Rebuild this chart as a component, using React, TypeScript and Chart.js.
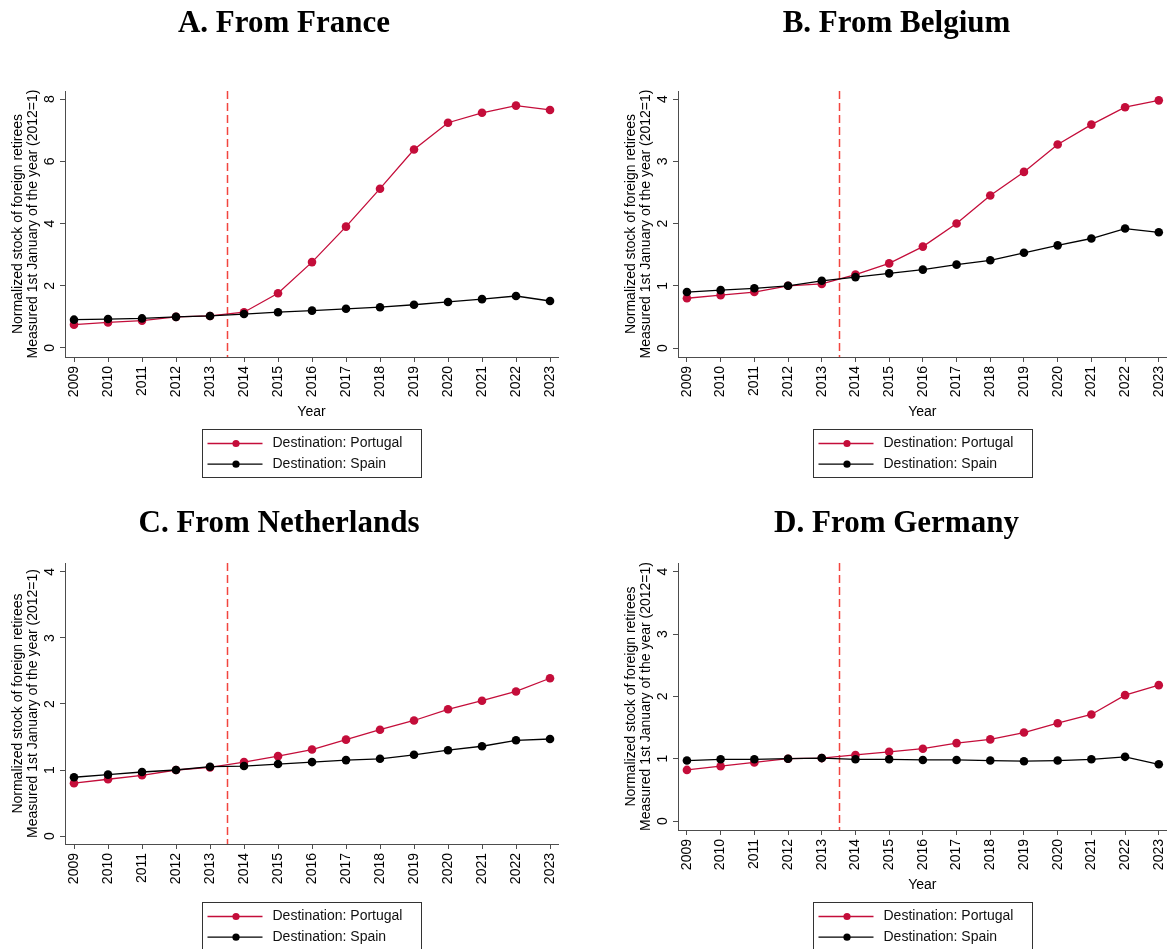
import React, { useEffect, useRef } from 'react';
import { Chart, registerables } from 'chart.js';

Chart.register(...registerables);
Chart.defaults.font.family = '"Liberation Sans", Arial, sans-serif';
Chart.defaults.color = '#000';

// ---------- data ----------
const years = [2009, 2010, 2011, 2012, 2013, 2014, 2015, 2016, 2017, 2018, 2019, 2020, 2021, 2022, 2023];
const seriesLabels = ['Destination: Portugal', 'Destination: Spain'];
const panelTitles = ['A. From France', 'B. From Belgium', 'C. From Netherlands', 'D. From Germany'];
const yAxisTitle = ['Normalized stock of foreign retirees', 'Measured 1st January of the year (2012=1)'];
const xAxisTitle = 'Year';
const eventYear = 2013.5;

const francePortugal = [0.75, 0.82, 0.88, 1.0, 1.03, 1.15, 1.76, 2.76, 3.9, 5.12, 6.38, 7.24, 7.56, 7.79, 7.65];
const franceSpain = [0.91, 0.93, 0.95, 1.0, 1.03, 1.09, 1.15, 1.2, 1.26, 1.31, 1.39, 1.48, 1.57, 1.67, 1.51];
const belgiumPortugal = [0.8, 0.85, 0.9, 1.0, 1.03, 1.18, 1.36, 1.63, 2.0, 2.45, 2.83, 3.27, 3.59, 3.87, 3.98];
const belgiumSpain = [0.9, 0.93, 0.96, 1.0, 1.08, 1.14, 1.2, 1.26, 1.34, 1.41, 1.53, 1.65, 1.76, 1.92, 1.86];
const netherlandsPortugal = [0.8, 0.86, 0.92, 1.0, 1.04, 1.12, 1.21, 1.31, 1.46, 1.61, 1.75, 1.92, 2.05, 2.19, 2.39];
const netherlandsSpain = [0.89, 0.93, 0.97, 1.0, 1.05, 1.06, 1.09, 1.12, 1.15, 1.17, 1.23, 1.3, 1.36, 1.45, 1.47];
const germanyPortugal = [0.82, 0.88, 0.94, 1.0, 1.01, 1.06, 1.11, 1.16, 1.25, 1.31, 1.42, 1.57, 1.71, 2.02, 2.18];
const germanySpain = [0.97, 0.99, 0.99, 1.0, 1.01, 0.99, 0.99, 0.98, 0.98, 0.97, 0.96, 0.97, 0.99, 1.03, 0.91];

const yTicksFrance = [0, 2, 4, 6, 8];
const yTicksOther = [0, 1, 2, 3, 4];

// ---------- styles ----------
const PORTUGAL_COLOR = '#c40d3a';
const SPAIN_COLOR = '#000000';
const AXIS_COLOR = '#4d4d4d';
const EVENT_COLOR = '#f2453f';

const legendPlugin = {
  id: 'boxLegend',
  afterDraw(chart: any, _args: any, opts: any) {
    const { ctx, chartArea } = chart;
    const w = 219;
    const h = 48;
    const cx = (chartArea.left + chartArea.right) / 2;
    const x = Math.round(cx - w / 2) + 0.5;
    const y = Math.round(chartArea.bottom + opts.gap) + 0.5;
    ctx.save();
    ctx.fillStyle = '#fff';
    ctx.fillRect(x, y, w, h);
    ctx.strokeStyle = '#333';
    ctx.lineWidth = 1;
    ctx.strokeRect(x, y, w, h);
    chart.data.datasets.forEach((ds: any, i: number) => {
      const ry = y + 14 + i * 20.7;
      ctx.strokeStyle = ds.borderColor;
      ctx.lineWidth = 1.3;
      ctx.beginPath();
      ctx.moveTo(x + 5, ry);
      ctx.lineTo(x + 60, ry);
      ctx.stroke();
      ctx.fillStyle = ds.borderColor;
      ctx.beginPath();
      ctx.arc(x + 33.5, ry, 3.6, 0, Math.PI * 2);
      ctx.fill();
      ctx.fillStyle = '#111';
      ctx.font = '14px "Liberation Sans", Arial, sans-serif';
      ctx.textBaseline = 'middle';
      ctx.textAlign = 'left';
      ctx.fillText(ds.label, x + 70, ry);
    });
    ctx.restore();
  },
};

const eventLinePlugin = {
  id: 'eventLine',
  beforeDatasetsDraw(chart: any, _args: any, opts: any) {
    const { ctx, chartArea, scales } = chart;
    const x = Math.round(scales.x.getPixelForValue(opts.value)) + 0.5;
    ctx.save();
    ctx.strokeStyle = EVENT_COLOR;
    ctx.lineWidth = 1.5;
    ctx.setLineDash([8, 4]);
    ctx.beginPath();
    ctx.moveTo(x, chartArea.top);
    ctx.lineTo(x, chartArea.bottom);
    ctx.stroke();
    ctx.restore();
  },
};

type PanelSpec = {
  title: string;
  portugal: number[];
  spain: number[];
  yTicks: number[];
  yMin: number;
  yMax: number;
  left: number;
  top: number;
  w: number;
  h: number;
  padL: number;
  padR: number;
  padB: number;
  yAxisW: number;
  xAxisH: number;
  titlePadTop: number;
  titlePadBottom: number;
  yTitlePadTop: number;
  legendGap: number;
  showXTitle: boolean;
};

const panels: PanelSpec[] = [
  {
    title: panelTitles[0], portugal: francePortugal, spain: franceSpain, yTicks: yTicksFrance,
    yMin: -0.29, yMax: 8.26, left: 0, top: 0, w: 600, h: 480, padL: 10, padR: 42, padB: 58,
    yAxisW: 55, xAxisH: 65, titlePadTop: 8, titlePadBottom: 52, yTitlePadTop: 0.5, legendGap: 72.3, showXTitle: true,
  },
  {
    title: panelTitles[1], portugal: belgiumPortugal, spain: belgiumSpain, yTicks: yTicksOther,
    yMin: -0.144, yMax: 4.13, left: 613, top: 0, w: 558, h: 480, padL: 10, padR: 1, padB: 58,
    yAxisW: 55, xAxisH: 65, titlePadTop: 8, titlePadBottom: 52, yTitlePadTop: 0.5, legendGap: 72.3, showXTitle: true,
  },
  {
    title: panelTitles[2], portugal: netherlandsPortugal, spain: netherlandsSpain, yTicks: yTicksOther,
    yMin: -0.121, yMax: 4.136, left: 0, top: 480, w: 600, h: 469, padL: 0, padR: 42, padB: 60,
    yAxisW: 65, xAxisH: 45, titlePadTop: 28, titlePadBottom: 24, yTitlePadTop: 10.5, legendGap: 58, showXTitle: false,
  },
  {
    title: panelTitles[3], portugal: germanyPortugal, spain: germanySpain, yTicks: yTicksOther,
    yMin: -0.144, yMax: 4.14, left: 613, top: 480, w: 558, h: 469, padL: 10, padR: 1, padB: 54,
    yAxisW: 55, xAxisH: 65, titlePadTop: 28, titlePadBottom: 24, yTitlePadTop: 0.5, legendGap: 72, showXTitle: true,
  },
];

function Panel({ spec }: { spec: PanelSpec }) {
  const ref = useRef<HTMLCanvasElement>(null);
  useEffect(() => {
    if (!ref.current) return;
    const mk = (vals: number[]) => years.map((x, i) => ({ x, y: vals[i] }));
    const chart = new Chart(ref.current, {
      type: 'line',
      data: {
        datasets: [
          {
            label: seriesLabels[0],
            data: mk(spec.portugal),
            borderColor: PORTUGAL_COLOR,
            backgroundColor: PORTUGAL_COLOR,
            borderWidth: 1.3,
            pointRadius: 4.3,
            pointBorderWidth: 0,
            pointHoverRadius: 4.3,
            order: 1,
          },
          {
            label: seriesLabels[1],
            data: mk(spec.spain),
            borderColor: SPAIN_COLOR,
            backgroundColor: SPAIN_COLOR,
            borderWidth: 1.3,
            pointRadius: 4.3,
            pointBorderWidth: 0,
            pointHoverRadius: 4.3,
            order: 0,
          },
        ],
      },
      options: {
        responsive: false,
        animation: false,
        events: [],
        layout: { padding: { left: spec.padL, right: spec.padR, top: 0, bottom: spec.padB } },
        plugins: {
          legend: { display: false },
          tooltip: { enabled: false },
          title: {
            display: true,
            text: spec.title,
            color: '#000',
            font: { family: '"Liberation Serif", "Times New Roman", serif', size: 31, weight: 'bold', lineHeight: 1 },
            padding: { top: spec.titlePadTop, bottom: spec.titlePadBottom },
          },
          boxLegend: { gap: spec.legendGap },
          eventLine: { value: eventYear },
        } as any,
        scales: {
          x: {
            type: 'linear',
            min: 2008.735,
            max: 2023.235,
            afterBuildTicks: (scale: any) => {
              scale.ticks = years.map((v) => ({ value: v }));
            },
            afterFit: (scale: any) => {
              scale.height = spec.xAxisH;
              scale.paddingLeft = 0;
              scale.paddingRight = 0;
            },
            ticks: {
              autoSkip: false,
              minRotation: 90,
              maxRotation: 90,
              padding: 4,
              color: '#000',
              font: { size: 14 },
              callback: (v: any) => String(v),
            },
            grid: { drawOnChartArea: false, drawTicks: true, tickLength: 5, color: AXIS_COLOR },
            border: { display: true, color: AXIS_COLOR, width: 1 },
            title: {
              display: spec.showXTitle,
              text: xAxisTitle,
              color: '#000',
              font: { size: 14 },
              padding: { top: 0, bottom: 1 },
            },
          },
          y: {
            type: 'linear',
            min: spec.yMin,
            max: spec.yMax,
            afterBuildTicks: (scale: any) => {
              scale.ticks = spec.yTicks.map((v) => ({ value: v }));
            },
            afterFit: (scale: any) => {
              scale.width = spec.yAxisW;
              scale.paddingTop = 0;
              scale.paddingBottom = 0;
            },
            ticks: {
              minRotation: 90,
              maxRotation: 90,
              crossAlign: 'center',
              padding: 6,
              color: '#000',
              font: { size: 14 },
              callback: (v: any) => String(v),
            },
            grid: { drawOnChartArea: false, drawTicks: true, tickLength: 5, color: AXIS_COLOR },
            border: { display: true, color: AXIS_COLOR, width: 1 },
            title: {
              display: true,
              text: yAxisTitle,
              color: '#000',
              font: { size: 14, lineHeight: 1.07 },
              padding: { top: spec.yTitlePadTop, bottom: 0 },
            },
          },
        },
      } as any,
      plugins: [eventLinePlugin, legendPlugin],
    });
    return () => chart.destroy();
  }, []);
  return (
    <canvas
      ref={ref}
      width={spec.w}
      height={spec.h}
      style={{ position: 'absolute', left: spec.left, top: spec.top, width: spec.w + 'px', height: spec.h + 'px' }}
    />
  );
}

export default function App() {
  return (
    <div style={{ position: 'absolute', left: 0, top: 0, width: 1171, height: 949, background: '#fff', overflow: 'hidden' }}>
      {panels.map((p) => (
        <Panel key={p.title} spec={p} />
      ))}
    </div>
  );
}
